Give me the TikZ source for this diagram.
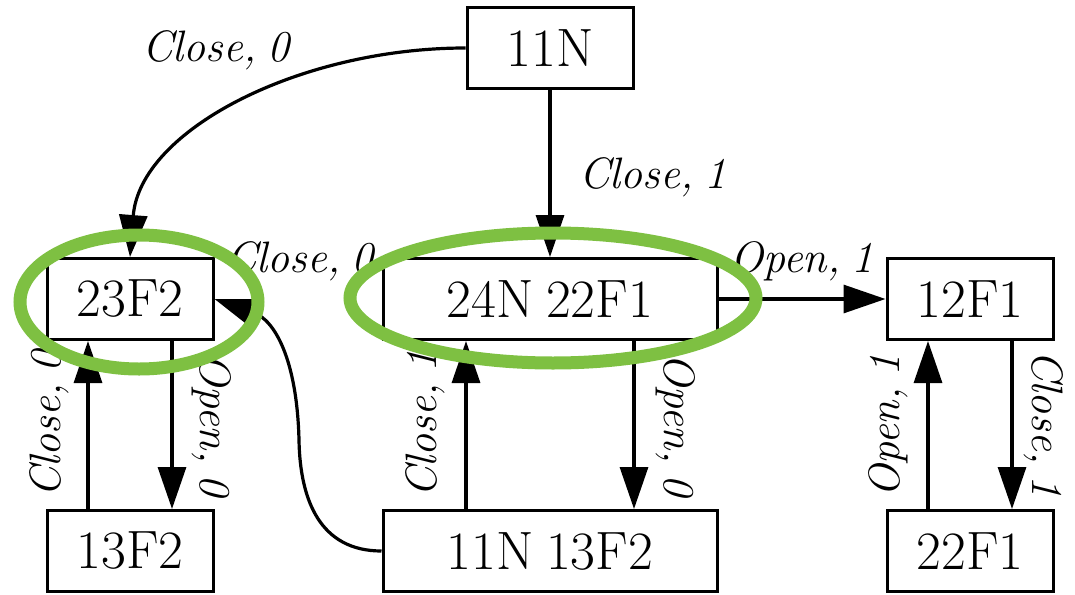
\documentclass[tikz,border=0pt]{standalone}
\usepackage{fontspec}
\setmainfont{Latin Modern Roman}[WordSpace=0.75]
\usetikzlibrary{arrows.meta}
\definecolor{hilite}{RGB}{126,192,66}
\begin{document}
\begin{tikzpicture}[x=1pt,y=-1pt,
  state/.style={draw, line width=3pt, minimum width=166pt, minimum height=81pt,
    inner sep=0pt, font=\fontsize{54}{60}\selectfont},
  wide/.style={state, minimum width=334pt},
  trans/.style={line width=3.2pt, -{Triangle[length=42pt,width=28pt]}},
  lbl/.style={font=\itshape\fontsize{44}{50}\selectfont, inner sep=0pt, anchor=base},
  ring/.style={draw=hilite, line width=13pt}]
\useasboundingbox (0,0) rectangle (1075,594);

% states
\node[state] (s11N)   at (550,48)  {11N};
\node[state] (s23F2)  at (130,299) {23F2};
\node[wide]  (s24N)   at (550,299) {24N 22F1};
\node[state] (s12F1)  at (970,299) {12F1};
\node[state] (s13F2)  at (130,551) {13F2};
\node[wide]  (s11N13) at (550,551) {11N 13F2};
\node[state] (s22F1)  at (970,551) {22F1};

% transitions
\draw[trans] (s11N.west) .. controls (300,48) and (140,130) .. (s23F2.north);
\draw[trans] (s11N.south) -- (s24N.north);
\draw[trans] (s24N.east) -- (s12F1.west);
\draw[trans] ([xshift=-42pt]s13F2.north) -- ([xshift=-42pt]s23F2.south);
\draw[trans] ([xshift=42pt]s23F2.south) -- ([xshift=42pt]s13F2.north);
\draw[trans] ([xshift=-84pt]s11N13.north) -- ([xshift=-84pt]s24N.south);
\draw[trans] ([xshift=84pt]s24N.south) -- ([xshift=84pt]s11N13.north);
\draw[trans] ([xshift=-42pt]s22F1.north) -- ([xshift=-42pt]s12F1.south);
\draw[trans] ([xshift=42pt]s12F1.south) -- ([xshift=42pt]s22F1.north);
\draw[trans] (s11N13.west) .. controls (320,551) and (300,500) .. (299,440)
  .. controls (297,360) and (275,320) .. (s23F2.east);

% transition labels
\node[lbl] (t1) at (216,62)  {Close, 0};
\node[lbl] (t2) at (653,188) {Close, 1};
\node[lbl] (t3) at (300,272) {Close, 0};
\node[lbl] (t4) at (802,272) {Open, 1};
\node[lbl, rotate=90]  (t5)  at (60,424)   {Close, 0};
\node[lbl, rotate=-90] (t6)  at (200,425)  {Open, 0};
\node[lbl, rotate=90]  (t7)  at (436,424)  {Close, 1};
\node[lbl, rotate=-90] (t8)  at (664,425)  {Open, 0};
\node[lbl, rotate=90]  (t9)  at (899,426)  {Open, 1};
\node[lbl, rotate=-90] (t10) at (1032,424) {Close, 1};

% highlighted states
\draw[ring] (139,302) ellipse [x radius=119, y radius=67];
\draw[ring] (553,298) ellipse [x radius=203, y radius=65];
\end{tikzpicture}
\end{document}
